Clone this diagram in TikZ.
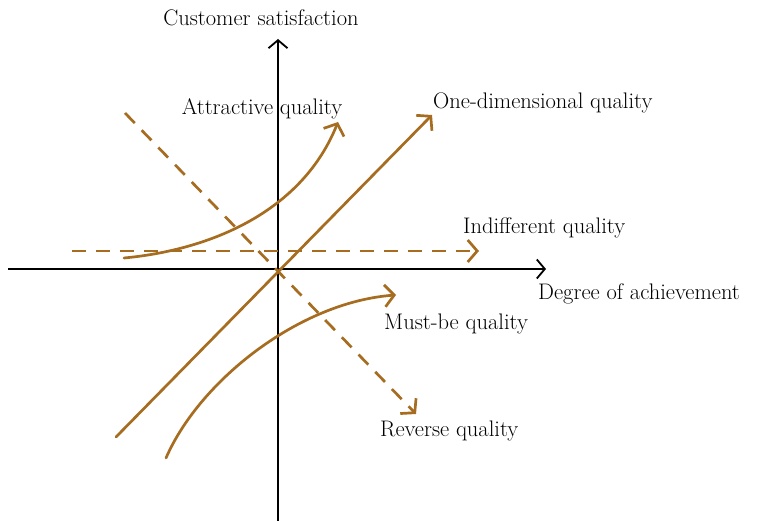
\documentclass[tikz,border=0pt]{standalone}
\usepackage{fontspec}
\setmainfont{Latin Modern Roman}
\usetikzlibrary{arrows.meta}
\definecolor{kbrown}{HTML}{A66C20}
\begin{document}
\begin{tikzpicture}[x=1pt,y=-1pt,
  lbl/.style={font=\fontsize{22.5}{26}\selectfont, inner sep=0pt},
  axis/.style={line width=1.8pt, black, -{Straight Barb[length=8pt,width=19pt]}},
  curve/.style={line width=2.7pt, kbrown, line cap=round, -{Straight Barb[length=9.5pt,width=22pt]}},
  dashcurve/.style={curve, line cap=butt, dash pattern=on 14pt off 10pt}]
\useasboundingbox (0,0) rectangle (761,521);
% axes
\coordinate (ybot) at (278,521);
\coordinate (ytop) at (278,39);
\coordinate (xl) at (8,269);
\coordinate (xr) at (546,269);
\draw[axis] (ybot) -- (ytop);
\draw[axis] (xl) -- (xr);
\node[lbl] (ylab) at (261,18) {Customer satisfaction};
\node[lbl, anchor=west] (xlab) at (538,294) {Degree of achievement};
% one-dimensional
\coordinate (o1) at (116,437);
\coordinate (o2) at (432,115);
\draw[curve] (o1) -- (o2);
\node[lbl, anchor=west] (olab) at (433,103) {One-dimensional quality};
% attractive
\coordinate (a1) at (124,258);
\coordinate (a2) at (338,122);
\draw[curve] (a1) .. controls (210,250) and (302,212) .. (a2);
\node[lbl] (alab) at (262,109) {Attractive quality};
% indifferent
\coordinate (i1) at (72,251);
\coordinate (i2) at (479,251);
\draw[dashcurve] (i1) -- (i2);
\node[lbl, anchor=west] (ilab) at (463,228) {Indifferent quality};
% reverse
\coordinate (r1) at (125,113);
\coordinate (r2) at (416,414);
\draw[dashcurve] (r1) -- (r2);
\node[lbl, anchor=west] (rlab) at (380,431) {Reverse quality};
% must-be
\coordinate (m1) at (166,458);
\coordinate (m2) at (396,295);
\draw[curve] (m1) .. controls (200,380) and (300,302) .. (m2);
\node[lbl, anchor=west] (mlab) at (384,324) {Must-be quality};
\end{tikzpicture}
\end{document}
